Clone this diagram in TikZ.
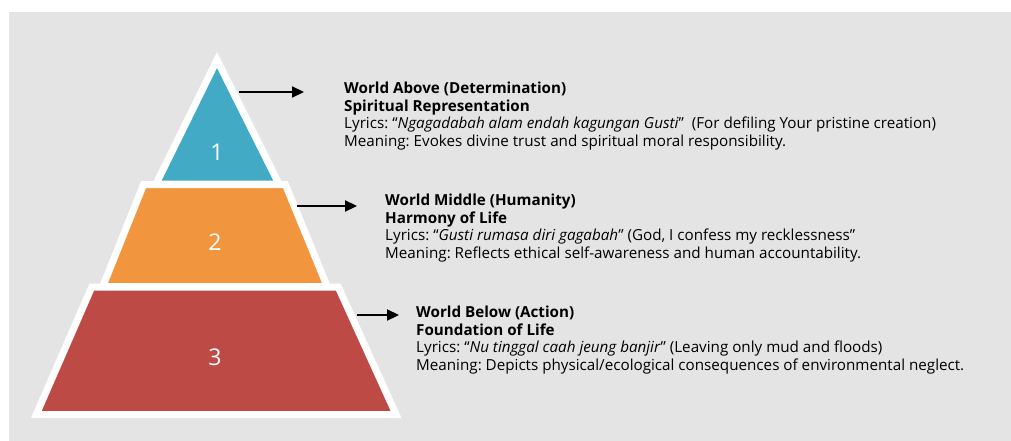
\documentclass[tikz,border=0pt]{standalone}
\usepackage{fontspec}
\setmainfont{Open Sans}
\usetikzlibrary{arrows.meta}
\definecolor{skyblue}{RGB}{66,170,197}
\definecolor{amber}{RGB}{242,149,63}
\definecolor{brick}{RGB}{190,74,70}
\definecolor{panel}{RGB}{228,228,228}
\newcommand{\level}[6] % name, colour, number, x, y, outline
{
	% tier with white rim
	\filldraw[line width=7, draw=white, fill=#2] #6 -- cycle;
	% number in the middle
	\node[text=white, font=\fontsize{23}{23}\selectfont] (#1) at (#4,#5) {#3};
}
\newcommand{\world}[7] % name, x, y, title, subtitle, lyrics, meaning
{
	\node[anchor=north west, inner sep=0, align=left, font=\fontsize{15.2}{17.6}\selectfont] (#1) at (#2,#3)
		{\textbf{#4}\\ \textbf{#5}\\ #6\\ #7};
}
\tikzset{pointer/.style={-{Triangle[length=12pt,width=11pt]}, line width=2.2pt}}
\frenchspacing

\begin{document}
\begin{tikzpicture}[x=1pt, y=-1pt]
	% 1011 x 441, one unit = one pixel
	\fill[white] (0,0) rectangle (1011,441);
	\fill[panel] (9,12) rectangle (1011,441);
	\useasboundingbox (0,0) rectangle (1011,441);
	
	% pyramid, top to bottom
	\level{lvl1}{skyblue}{1}{217}{152}{(217,60) -- (279,184) -- (156,184)};
	\level{lvl2}{amber}{2}{215}{242}{(143.6,184.5) -- (285.4,184.5) -- (327.2,286.5) -- (102.8,286.5)};
	\level{lvl3}{brick}{3}{215}{357}{(91.8,287) -- (338.2,287) -- (396.1,414.5) -- (36.3,414.5)};
	
	% descriptions
	\world{txt1}{344}{82}{World Above (Determination)}{Spiritual Representation}
		{Lyrics: “\textit{Ngagadabah alam endah kagungan Gusti}”\ \ (For defiling Your pristine creation)}
		{Meaning: Evokes divine trust and spiritual moral responsibility.}
	\world{txt2}{385}{194}{World Middle (Humanity)}{Harmony of Life}
		{Lyrics: “\textit{Gusti rumasa diri gagabah}” (God, I confess my recklessness”}
		{Meaning: Reflects ethical self-awareness and human accountability.}
	\world{txt3}{416}{306}{World Below (Action)}{Foundation of Life}
		{Lyrics: “\textit{Nu tinggal caah jeung banjir}” (Leaving only mud and floods)}
		{Meaning: Depicts physical/ecological consequences of environmental neglect.}
	
	% arrows
	\coordinate (p1) at (239,92);
	\coordinate (q1) at (304,92);
	\coordinate (p2) at (297,206);
	\coordinate (q2) at (357,206);
	\coordinate (p3) at (357,315);
	\coordinate (q3) at (399,315);
	\draw[pointer] (p1) -- (q1);
	\draw[pointer] (p2) -- (q2);
	\draw[pointer] (p3) -- (q3);
\end{tikzpicture}
\end{document}
